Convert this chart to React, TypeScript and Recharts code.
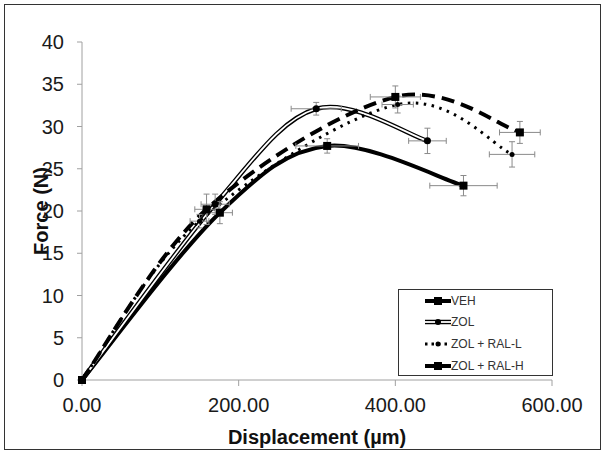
import React from "react";
import { ComposedChart, Line, Scatter, XAxis, YAxis, ErrorBar, Label } from "recharts";

// Displacement (µm) and force (N), with SD error bars
const DISP_VEH = [0, 176, 313, 487];
const FORCE_VEH = [0, 19.8, 27.7, 23.0];
const ERRX_VEH = [null, 16, 40, 43];
const ERRY_VEH = [null, 1.3, 0.85, 1.2];

const DISP_ZOL = [0, 170, 299, 441];
const FORCE_ZOL = [0, 20.8, 32.1, 28.3];
const ERRX_ZOL = [null, 18, 32, 24];
const ERRY_ZOL = [null, 1.2, 0.75, 1.5];

const DISP_RAL_L = [0, 150, 403, 549];
const FORCE_RAL_L = [0, 18.8, 32.6, 26.7];
const ERRX_RAL_L = [null, 12, 20, 29];
const ERRY_RAL_L = [null, 0.8, 1.0, 1.5];

const DISP_RAL_H = [0, 159, 400, 559];
const FORCE_RAL_H = [0, 20.2, 33.5, 29.3];
const ERRX_RAL_H = [null, 15, 32, 26];
const ERRY_RAL_H = [null, 1.8, 1.3, 1.3];

const X_TICKS = [0, 200, 400, 600];
const Y_TICKS = [0, 5, 10, 15, 20, 25, 30, 35, 40];
const SERIES_NAMES = ["VEH", "ZOL", "ZOL + RAL-L", "ZOL + RAL-H"];

type Pt = { x: number; y: number; ex: number | null; ey: number | null };

const build = (xs: number[], ys: number[], ex: (number | null)[], ey: (number | null)[]): Pt[] =>
  xs.map((x, i) => ({ x, y: ys[i], ex: ex[i], ey: ey[i] }));

const veh = build(DISP_VEH, FORCE_VEH, ERRX_VEH, ERRY_VEH);
const zol = build(DISP_ZOL, FORCE_ZOL, ERRX_ZOL, ERRY_ZOL);
const ralL = build(DISP_RAL_L, FORCE_RAL_L, ERRX_RAL_L, ERRY_RAL_L);
const ralH = build(DISP_RAL_H, FORCE_RAL_H, ERRX_RAL_H, ERRY_RAL_H);

// smoothed line like Excel (catmull-rom through the points)
const excelCurve = (context: any) => {
  let pts: [number, number][] = [];
  return {
    areaStart() {},
    areaEnd() {},
    lineStart() {
      pts = [];
    },
    lineEnd() {
      if (!pts.length) return;
      context.moveTo(pts[0][0], pts[0][1]);
      for (let i = 0; i < pts.length - 1; i++) {
        const p0 = pts[Math.max(i - 1, 0)];
        const p1 = pts[i];
        const p2 = pts[i + 1];
        const p3 = pts[Math.min(i + 2, pts.length - 1)];
        context.bezierCurveTo(
          p1[0] + (p2[0] - p0[0]) / 6,
          p1[1] + (p2[1] - p0[1]) / 6,
          p2[0] - (p3[0] - p1[0]) / 6,
          p2[1] - (p3[1] - p1[1]) / 6,
          p2[0],
          p2[1]
        );
      }
    },
    point(x: number, y: number) {
      pts.push([+x, +y]);
    },
  };
};

const FONT = "'Liberation Sans', Arial, sans-serif";
const AXIS_GRAY = "#a0a0a0";
const ERR_GRAY = "#8a8a8a";

const square = (s: number) => (p: any) =>
  <rect x={p.cx - s / 2} y={p.cy - s / 2} width={s} height={s} fill="#000" />;
const dot = (r: number) => (p: any) => <circle cx={p.cx} cy={p.cy} r={r} fill="#000" />;

const errBars = [
  <ErrorBar key="ex" dataKey="ex" direction="x" width={3} stroke={ERR_GRAY} strokeWidth={1} />,
  <ErrorBar key="ey" dataKey="ey" direction="y" width={3} stroke={ERR_GRAY} strokeWidth={1} />,
];

function LegendBox() {
  const rows = [
    { y: 11, el: <><line x1={2} x2={28} y1={11} y2={11} stroke="#000" strokeWidth={4} /><rect x={11} y={7} width={8} height={8} fill="#000" /></> },
    { y: 32, el: <><line x1={2} x2={28} y1={32} y2={32} stroke="#000" strokeWidth={4.5} /><line x1={2} x2={28} y1={32} y2={32} stroke="#fff" strokeWidth={1.8} /><circle cx={15} cy={32} r={3} fill="#000" /></> },
    { y: 54, el: <><line x1={2} x2={28} y1={54} y2={54} stroke="#000" strokeWidth={3} strokeDasharray="2.5 4" /><circle cx={15} cy={54} r={2.5} fill="#000" /></> },
    { y: 76, el: <><line x1={2} x2={28} y1={76} y2={76} stroke="#000" strokeWidth={4} /><rect x={11} y={72} width={8} height={8} fill="#000" /></> },
  ];
  return (
    <div
      style={{
        position: "absolute",
        left: 398,
        top: 289,
        width: 155,
        height: 87,
        border: "1px solid #333",
        boxSizing: "border-box",
        background: "#fff",
      }}
    >
      <svg width={155} height={87} style={{ position: "absolute", left: 24, top: 0 }}>
        {rows.map((r, i) => (
          <g key={i}>
            {r.el}
            <text x={28} y={r.y} dominantBaseline="central" fontSize={12} fill="#333" fontFamily={FONT}>
              {SERIES_NAMES[i]}
            </text>
          </g>
        ))}
      </svg>
    </div>
  );
}

export default function App() {
  return (
    <div style={{ position: "absolute", left: 0, top: 0, width: 604, height: 455, background: "#fff" }}>
      <div
        style={{
          position: "absolute",
          left: 4,
          top: 4,
          width: 597,
          height: 446,
          border: "1px solid #333",
          boxSizing: "border-box",
        }}
      />
      <ComposedChart
        width={604}
        height={455}
        margin={{ top: 42, right: 52, left: 22, bottom: 25 }}
        style={{ fontFamily: FONT, position: "absolute", left: 0, top: 0 }}
      >
        <XAxis
          type="number"
          dataKey="x"
          domain={[0, 600]}
          ticks={X_TICKS}
          tickFormatter={(v: number) => v.toFixed(2)}
          height={50}
          stroke={AXIS_GRAY}
          tickSize={6}
          tickMargin={12}
          tick={{ fill: "#1a1a1a", fontSize: 20 }}
        >
          <Label
            content={(props: any) => {
              const vb = props.viewBox;
              return (
                <text
                  x={vb.x + vb.width / 2}
                  y={437}
                  textAnchor="middle"
                  dominantBaseline="central"
                  fontSize={20}
                  fontWeight="bold"
                  fill="#111"
                >
                  Displacement (µm)
                </text>
              );
            }}
          />
        </XAxis>
        <YAxis
          type="number"
          dataKey="y"
          domain={[0, 40]}
          ticks={Y_TICKS}
          width={60}
          stroke={AXIS_GRAY}
          tickSize={5}
          tickMargin={13}
          tick={{ fill: "#1a1a1a", fontSize: 20 }}
        >
          <Label
            content={(props: any) => {
              const vb = props.viewBox;
              const cy = vb.y + vb.height / 2;
              return (
                <text
                  x={41}
                  y={cy}
                  transform={`rotate(-90 41 ${cy})`}
                  textAnchor="middle"
                  dominantBaseline="central"
                  fontSize={20}
                  fontWeight="bold"
                  fill="#111"
                >
                  Force (N)
                </text>
              );
            }}
          />
        </YAxis>

        <Line data={veh} dataKey="y" type={excelCurve as any} stroke="#000" strokeWidth={4} dot={false} isAnimationActive={false} />
        <Line data={zol} dataKey="y" type={excelCurve as any} stroke="#000" strokeWidth={4.5} dot={false} isAnimationActive={false} />
        <Line data={zol} dataKey="y" type={excelCurve as any} stroke="#fff" strokeWidth={1.8} dot={false} isAnimationActive={false} />
        <Line data={ralL} dataKey="y" type={excelCurve as any} stroke="#000" strokeWidth={3} strokeDasharray="2.5 5.5" dot={false} isAnimationActive={false} />
        <Line data={ralH} dataKey="y" type={excelCurve as any} stroke="#000" strokeWidth={4} strokeDasharray="13 7" dot={false} isAnimationActive={false} />

        <Scatter data={veh} dataKey="y" shape={square(8)} isAnimationActive={false}>
          {errBars}
        </Scatter>
        <Scatter data={zol} dataKey="y" shape={dot(3.5)} isAnimationActive={false}>
          {errBars}
        </Scatter>
        <Scatter data={ralL} dataKey="y" shape={dot(2.5)} isAnimationActive={false}>
          {errBars}
        </Scatter>
        <Scatter data={ralH} dataKey="y" shape={square(8)} isAnimationActive={false}>
          {errBars}
        </Scatter>
      </ComposedChart>
      <LegendBox />
    </div>
  );
}
